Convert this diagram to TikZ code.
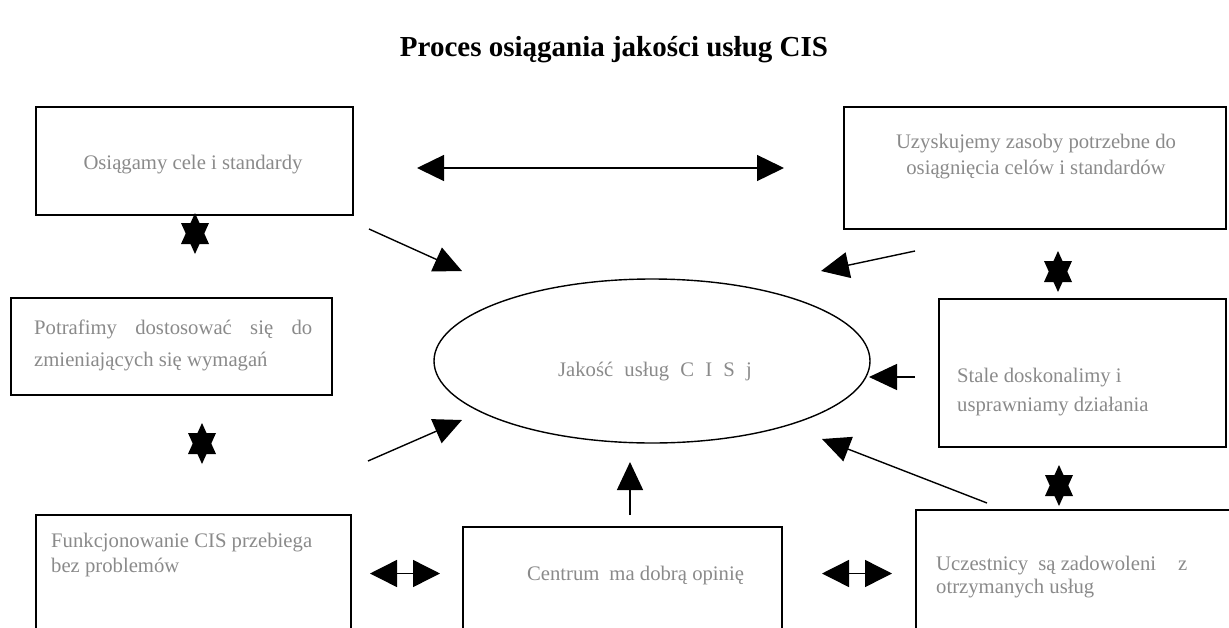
\documentclass[tikz,border=0pt]{standalone}
\usepackage{fontspec}
\setmainfont{Liberation Serif}
\usetikzlibrary{arrows.meta,shapes.geometric}
\definecolor{txtgray}{RGB}{138,138,138}
\tikzset{
  box/.style={draw=black, line width=1.6pt, rectangle, inner sep=0pt},
  txt/.style={text=txtgray, inner sep=0pt, font=\fontsize{20.7}{25}\selectfont},
  conn/.style={line width=1.4pt, -{Triangle[length=28pt,width=26pt]}},
  dconn/.style={line width=1.4pt, {Triangle[length=27pt,width=26pt]}-{Triangle[length=27pt,width=26pt]}},
  hconn/.style={line width=1.4pt, {Triangle[length=27pt,width=27pt]}-{Triangle[length=27pt,width=27pt]}},
  hexa/.pic={
    \fill (0,-20.5) -- (14,10.5) -- (-14,10.5) -- cycle;
    \fill (0,20.5) -- (14,-10.5) -- (-14,-10.5) -- cycle;
  }
}
\begin{document}
\begin{tikzpicture}[x=1pt,y=-1pt]
\useasboundingbox (0,0) rectangle (1229,627);
% title
\node[inner sep=0pt, anchor=base, font=\fontsize{29}{34}\selectfont\bfseries] (title) at (614,56) {Proces osiągania jakości usług CIS};

% boxes
\node[box, minimum width=317pt, minimum height=108pt] (b1) at (194.5,161) {};
\node[box, minimum width=382pt, minimum height=122pt] (b2) at (1035,168) {};
\node[box, minimum width=321pt, minimum height=97pt] (b3) at (171.5,346.5) {};
\node[box, minimum width=287pt, minimum height=148pt] (b4) at (1082.5,373) {};
\node[box, minimum width=315pt, minimum height=160pt] (b5) at (193.5,595) {};
\node[box, minimum width=319pt, minimum height=140pt] (b6) at (622.5,597) {};
\node[box, minimum width=320pt, minimum height=140pt] (b7) at (1076,580) {};

% ellipse
\node[draw, line width=1.4pt, ellipse, minimum width=436pt, minimum height=164pt] (ell) at (652,361) {};

% texts
\node[txt, anchor=base] (t1) at (193,169) {Osiągamy cele i standardy};
\node[txt, anchor=base] (t2a) at (1036,148) {Uzyskujemy zasoby potrzebne do};
\node[txt, anchor=base] (t2b) at (1036,174) {osiągnięcia celów i standardów};
\node[txt, anchor=base west] (t3a) at (34,334) {\makebox[278pt][s]{Potrafimy dostosować się do}};
\node[txt, anchor=base west] (t3b) at (34,366) {zmieniających się wymagań};
\node[txt, anchor=base west] (t4a) at (957,382) {Stale doskonalimy i};
\node[txt, anchor=base west] (t4b) at (957,411) {usprawniamy działania};
\node[txt, anchor=base west] (t5a) at (51,547) {Funkcjonowanie CIS przebiega};
\node[txt, anchor=base west] (t5b) at (51,572) {bez problemów};
\node[txt, anchor=base] (t6) at (635.5,580) {Centrum\hspace{10pt}ma dobrą opinię};
\node[txt, anchor=base west] (t7a) at (936,570) {Uczestnicy\hspace{5pt} są zadowoleni\hspace{22pt}z};
\node[txt, anchor=base west] (t7b) at (936,593) {otrzymanych usług};
\node[txt, anchor=base] (te) at (655,376) {Jakość\hspace{6pt} usług\hspace{6pt} C\hspace{6pt} I\hspace{6pt} S\hspace{6pt} j};

% connector end points
\coordinate (a1s) at (369,229);  \coordinate (a1e) at (462,271);
\coordinate (a2s) at (368,461);  \coordinate (a2e) at (462,420);
\coordinate (a3s) at (915,251);  \coordinate (a3e) at (821,271);
\coordinate (a4s) at (915,377);  \coordinate (a4e) at (869,377);
\coordinate (a5s) at (987,503);  \coordinate (a5e) at (822,439);
\coordinate (a6s) at (630,515);  \coordinate (a6e) at (630,462);
\coordinate (d1s) at (417,168);  \coordinate (d1e) at (784,168);
\coordinate (h1s) at (370,573.5);  \coordinate (h1e) at (440,573.5);
\coordinate (h2s) at (822,573.5);  \coordinate (h2e) at (892,573.5);

\draw[conn] (a1s) -- (a1e);
\draw[conn] (a2s) -- (a2e);
\draw[conn] (a3s) -- (a3e);
\draw[conn] (a4s) -- (a4e);
\draw[conn] (a5s) -- (a5e);
\draw[conn] (a6s) -- (a6e);
\draw[dconn] (d1s) -- (d1e);
\draw[hconn] (h1s) -- (h1e);
\draw[hconn] (h2s) -- (h2e);

% vertical double arrows (star shaped)
\pic (s1) at (195,233.5) {hexa};
\pic (s2) at (202,443.5) {hexa};
\pic (s3) at (1058,271.5) {hexa};
\pic (s4) at (1059,485.5) {hexa};
\end{tikzpicture}
\end{document}
